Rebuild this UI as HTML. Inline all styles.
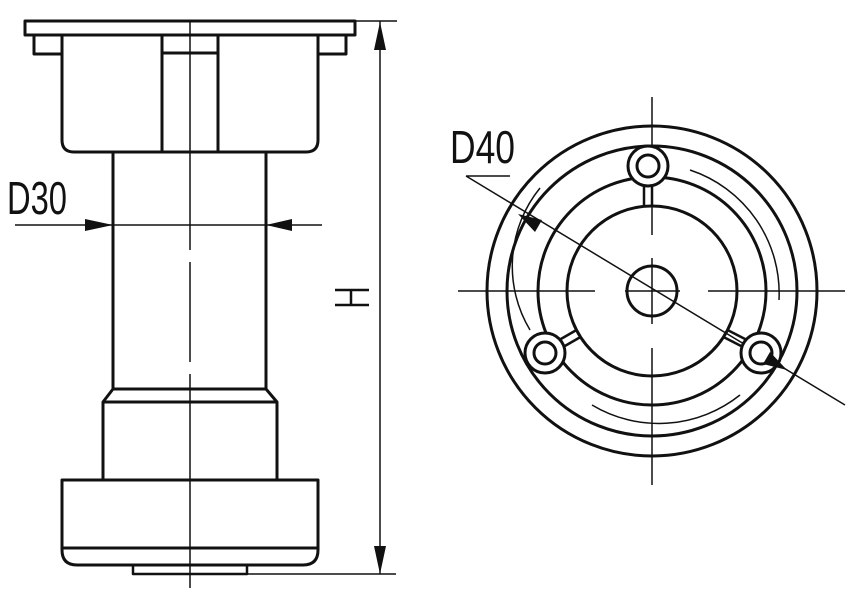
<!DOCTYPE html>
<html><head><meta charset="utf-8"><style>html,body{margin:0;padding:0;background:#fff}svg{display:block}</style></head>
<body>
<svg width="847" height="593" viewBox="0 0 847 593" xmlns="http://www.w3.org/2000/svg">
<g fill="none" stroke="#111" stroke-width="3" stroke-linejoin="round">
  <rect x="25" y="21" width="330" height="14"/>
  <path d="M34 35 V54 H62 M346 35 V54 H318"/>
  <path d="M62 35 V140 Q62 152 74 152 H306 Q318 152 318 140 V35"/>
  <path d="M162 35 V152 M218 35 V152 M162 53 H218"/>
  <path d="M113 152 V389 H266 V152"/>
  <path d="M113 389 L103 402 V480 M266 389 L277 402 V480 M103 402 H277"/>
  <path d="M62 480 H318 V550 Q318 565 303 565 H77 Q62 565 62 550 Z"/>
  <path d="M62 548 H318"/>
  <path d="M133 565 V574 H247 V565" stroke-width="2.5"/>
  <circle cx="652" cy="291" r="165"/>
  <circle cx="652" cy="291" r="145"/>
  <circle cx="652" cy="291" r="114"/>
  <circle cx="652" cy="291" r="85"/>
  <circle cx="652" cy="291" r="25"/>
</g>
<g fill="none" stroke="#111" stroke-width="1.5">
  <line x1="25" y1="21" x2="397" y2="21"/>
  <line x1="247" y1="574" x2="396" y2="574"/>
  <line x1="380" y1="21" x2="380" y2="574"/>
  <line x1="190" y1="20" x2="190" y2="588" stroke-dasharray="230 12 100 12 400"/>
  <line x1="15" y1="225" x2="322" y2="225"/>
  <path d="M335 290 H369 M335 305 H369 M351 290 V305" stroke-width="2.5"/>
  <path d="M540 188 A124 124 0 0 0 530 330" />
  <path d="M690 170 A130 130 0 0 1 779 300" />
  <path d="M592 405 A130 130 0 0 0 740 395" />
  <path d="M652 97 V235 M652 258 V324 M652 348 V485"/>
  <path d="M458 291 H595 M625 291 H680 M708 291 H845"/>
  <path d="M466 176 H510 M466 176 L845 405"/>
</g>
<g fill="none" stroke="#111" stroke-width="2.5">
  <path d="M644 186 V206 M652 186 V206"/>
  <path d="M560 339.5 L576.5 330 M564 346.5 L580.5 337"/>
  <path d="M746 339.5 L727.5 330 M742 346.5 L723.5 337"/>
</g>
<g fill="#fff" stroke="#111" stroke-width="3">
  <circle cx="648" cy="166" r="20"/><circle cx="648" cy="166" r="11"/>
  <circle cx="545" cy="353" r="20"/><circle cx="545" cy="353" r="11"/>
  <circle cx="761" cy="353" r="20"/><circle cx="761" cy="353" r="11"/>
</g>
<g fill="#111">
  <polygon points="113,225 85,219 85,231"/>
  <polygon points="266,225 292,219 292,231"/>
  <polygon points="380,22 374,50 386,50"/>
  <polygon points="380,574 374,546 386,546"/>
  <polygon points="518,214 542,220 535,232"/>
  <polygon points="787,370 763,364 770,352"/>
</g>
<g fill="#111" font-family="Liberation Sans, sans-serif" font-size="46">
  <text x="7" y="214" textLength="60" lengthAdjust="spacingAndGlyphs">D30</text>
  <text x="450" y="163" textLength="65" lengthAdjust="spacingAndGlyphs">D40</text>
</g>
</svg>
</body></html>
